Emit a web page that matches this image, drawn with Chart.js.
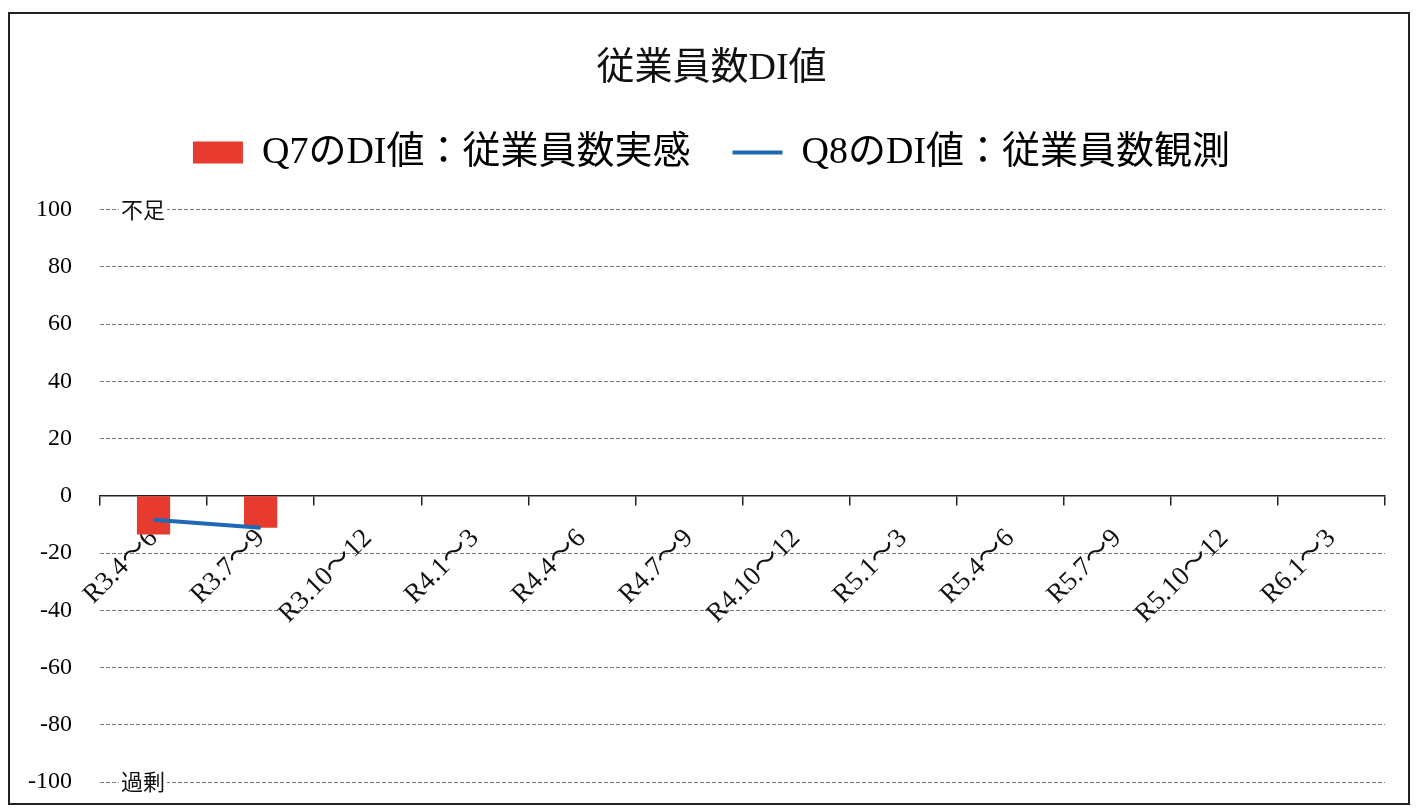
<!DOCTYPE html>
<html lang="ja">
<head>
<meta charset="UTF-8" />
<title>従業員数DI値</title>
<script src="https://cdn.jsdelivr.net/npm/chart.js"></script>
<style>
  html, body { margin: 0; padding: 0; background: #fff; }
  #frame {
    position: absolute; left: 8px; top: 12px;
    width: 1402px; height: 793px;
    box-sizing: border-box; border: 2px solid #222;
  }
  #frame canvas { display: block; }
</style>
</head>
<body>
<div id="frame"><canvas id="diChart" width="1398" height="789"></canvas></div>
<script>
  // data
  const periods = ['R3.4～6', 'R3.7～9', 'R3.10～12', 'R4.1～3', 'R4.4～6', 'R4.7～9',
                   'R4.10～12', 'R5.1～3', 'R5.4～6', 'R5.7～9', 'R5.10～12', 'R6.1～3'];
  const q7Values = [-13.5, -11.2, null, null, null, null, null, null, null, null, null, null];
  const q8Values = [-8.4, -11.2, null, null, null, null, null, null, null, null, null, null];
  const yTicks = { min: -100, max: 100, step: 20 };
  const sideNotes = [{ value: 100, text: '不足' }, { value: -100, text: '過剰' }];

  const serif = "'Liberation Serif', 'Noto Sans CJK JP', serif";

  // 不足 / 過剰 written on the top and bottom grid lines
  const sideNotePlugin = {
    id: 'sideNotes',
    afterDraw(chart) {
      const { ctx, chartArea, scales } = chart;
      ctx.save();
      ctx.font = "22px 'Noto Sans CJK JP', sans-serif";
      ctx.textBaseline = 'middle';
      sideNotes.forEach(n => {
        const y = scales.y.getPixelForValue(n.value);
        const x = chartArea.left + 21;
        const w = ctx.measureText(n.text).width;
        ctx.fillStyle = '#fff';
        ctx.fillRect(x - 2, y - 4, w + 4, 8);
        ctx.fillStyle = '#111';
        ctx.fillText(n.text, x, y);
      });
      ctx.restore();
    }
  };

  // extra room between the legend and the plot
  const legendGapPlugin = {
    id: 'legendGap',
    afterInit(chart) {
      const legend = chart.legend;
      if (!legend) return;
      const fit = legend.fit.bind(legend);
      legend.fit = function () {
        fit();
        this.height += 28;
      };
    }
  };

  new Chart(document.getElementById('diChart'), {
    type: 'bar',
    data: {
      labels: periods,
      datasets: [
        {
          type: 'bar',
          label: 'Q7のDI値：従業員数実感',
          data: q7Values,
          backgroundColor: '#e63b2e',
          categoryPercentage: 1,
          barPercentage: 0.31,
          order: 2
        },
        {
          type: 'line',
          label: 'Q8のDI値：従業員数観測',
          data: q8Values,
          borderColor: '#1f68b3',
          backgroundColor: '#1f68b3',
          borderWidth: 4,
          pointRadius: 0,
          order: 1
        }
      ]
    },
    options: {
      responsive: false,
      animation: false,
      layout: { padding: { left: 5, right: 0, bottom: 21, top: 0 } },
      plugins: {
        title: {
          display: true,
          text: '従業員数DI値',
          color: '#111',
          font: { family: serif, size: 38, weight: 'normal' },
          padding: { top: 32, bottom: 0 }
        },
        legend: {
          display: true,
          position: 'top',
          labels: {
            color: '#111',
            font: { family: serif, size: 38 },
            usePointStyle: true,
            pointStyleWidth: 50,
            boxHeight: 22,
            padding: 42,
            generateLabels(chart) {
              return chart.data.datasets.map((ds, i) => ({
                text: ds.label,
                fillStyle: ds.backgroundColor,
                strokeStyle: ds.type === 'line' ? ds.borderColor : ds.backgroundColor,
                lineWidth: ds.type === 'line' ? 4 : 0,
                pointStyle: ds.type === 'line' ? 'line' : 'rect',
                datasetIndex: i,
                hidden: false
              }));
            }
          }
        },
        tooltip: { enabled: false }
      },
      scales: {
        x: {
          position: { y: 0 },
          afterFit(scale) { scale.height = 0; },
          grid: {
            display: true,
            offset: true,
            drawOnChartArea: false,
            drawTicks: true,
            tickLength: 9,
            color: '#222',
            lineWidth: 1.5
          },
          border: { display: true, color: '#222', width: 1.5 },
          ticks: {
            color: '#111',
            font: { family: serif, size: 27 },
            minRotation: 45,
            maxRotation: 45,
            autoSkip: false,
            padding: 18
          }
        },
        y: {
          min: yTicks.min,
          max: yTicks.max,
          afterFit(scale) { scale.width = 85; },
          ticks: {
            stepSize: yTicks.step,
            color: '#000',
            padding: 2,
            font: { family: serif, size: 24 }
          },
          grid: {
            color: '#7a7a7a',
            lineWidth: 1,
            drawTicks: true,
            tickLength: 26,
            tickColor: 'rgba(0,0,0,0)'
          },
          border: { display: false, dash: [4, 2] }
        },
        // empty strip on the right so the plot ends where the reference does
        yRight: {
          type: 'linear',
          position: 'right',
          afterFit(scale) { scale.width = 23; },
          ticks: { display: false },
          grid: { display: false },
          border: { display: false }
        }
      }
    },
    plugins: [sideNotePlugin, legendGapPlugin]
  });
</script>
</body>
</html>
